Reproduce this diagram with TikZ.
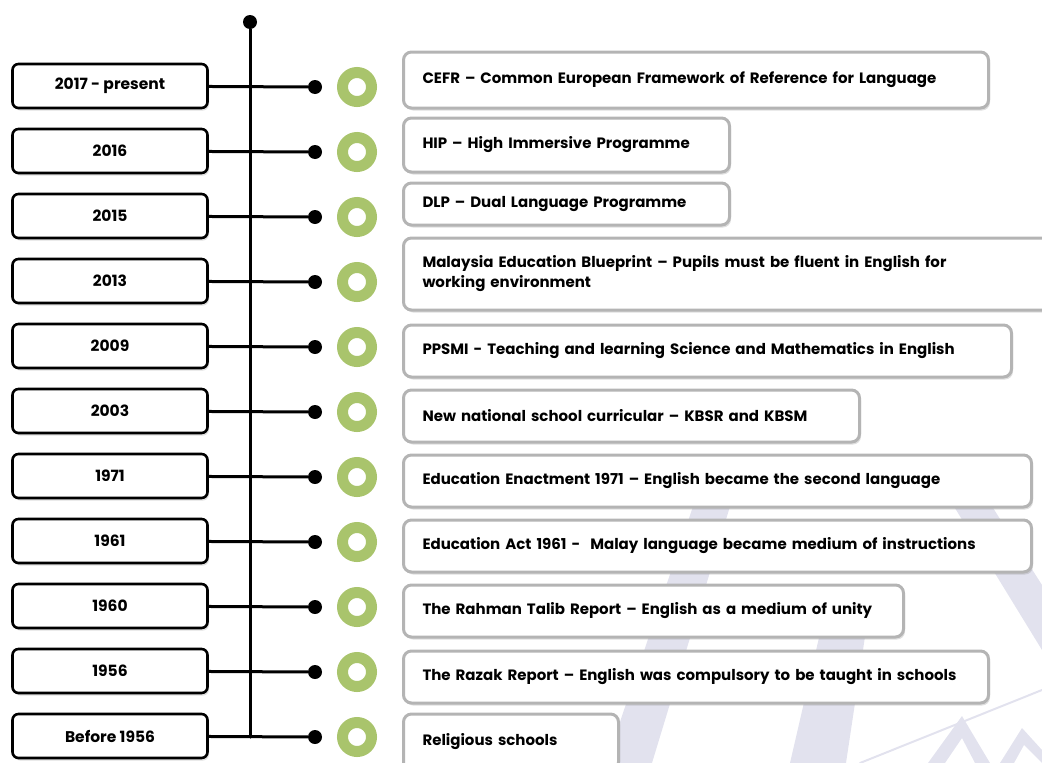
\documentclass[tikz,border=0pt]{standalone}
\usepackage{fontspec}
\setmainfont{Poppins}
\usetikzlibrary{shadows}
\definecolor{RingGreen}{HTML}{A9C46C}
\definecolor{EventGray}{HTML}{B4B4B4}
\definecolor{MarkLilac}{HTML}{E2E2EE}
\tikzset{YearBox/.style={draw=black,line width=2.6pt,rounded corners=6pt,fill=white,
           minimum width=195pt,minimum height=44pt,inner sep=0pt,
           font=\bfseries\fontsize{15.5}{18}\selectfont,
           drop shadow={opacity=.25,shadow xshift=1.5pt,shadow yshift=-2.5pt}},
         EventBox/.style={draw=EventGray,line width=3pt,rounded corners=8pt,fill=white,
           anchor=west,inner xsep=19pt,inner ysep=0pt,align=left,
           font=\bfseries\fontsize{15}{20}\selectfont,
           drop shadow={opacity=.25,shadow xshift=1.5pt,shadow yshift=-2.5pt}},
         TipDot/.style={circle,fill=black,minimum size=14pt,inner sep=0pt},
         Ring/.style={circle,draw=RingGreen,line width=11pt,minimum size=29pt,inner sep=0pt},
         Spine/.style={line width=3pt},
         Mark/.style={fill=MarkLilac,draw=none}}

\begin{document}
\begin{tikzpicture}[x=1pt,y=-1pt,line cap=round]
  \useasboundingbox (0,0) rectangle (1042,763);
  \clip (0,0) rectangle (1042,763);
  % faint watermark behind the event boxes
  \fill[Mark] (606,763) -- (652,763) -- (738,480) -- (702,480) -- cycle;
  \fill[Mark] (790,763) -- (846,763) -- (872,590) -- (830,590) -- cycle;
  \fill[Mark] (950,500) -- (988,500) -- (1042,585) -- (1042,650) -- cycle;
  \fill[Mark] (928,763) -- (962,716) -- (990,763) -- (975,763) -- (962,738) -- (945,763) -- cycle;
  \fill[Mark] (1000,763) -- (1022,728) -- (1042,750) -- (1042,763) -- (1024,745) -- (1014,763) -- cycle;
  \draw[MarkLilac,line width=2pt] (1042,690) -- (860,763);
  % spine of the time line
  \node[TipDot] (top) at (250,22) {};
  \coordinate (bot) at (250,737);
  \draw[Spine] (top) -- (bot);
  % years on the left, each tied to a dot and a green ring
  \foreach \yr [count=\i from 0] in {2017 - present,2016,2015,2013,2009,2003,
      1971,1961,1960,1956,Before 1956} {
    \node[YearBox] (yr\i) at (110,86+65*\i) {\yr};
    \node[TipDot] (tip\i) at (315,87+65*\i) {};
    \draw[Spine] (yr\i) -- (tip\i);
    \node[Ring] (ring\i) at (357,87+65*\i) {};
  }
  % events on the right: width / centre / height / text
  \foreach \w/\cy/\h/\txt [count=\i from 0] in {
      585/80/56/{CEFR – Common European Framework of Reference for Language},
      326/145/54/{HIP – High Immersive Programme},
      326/204/42/{DLP – Dual Language Programme},
      660/274/72/{Malaysia Education Blueprint – Pupils must be fluent in English for\\working environment},
      608/351/52/{PPSMI - Teaching and learning Science and Mathematics in English},
      456/416/52/{New national school curricular – KBSR and KBSM},
      628/481/52/{Education Enactment 1971 – English became the second language},
      628/546/52/{Education Act 1961 -\ \ Malay language became medium of instructions},
      500/611/52/{The Rahman Talib Report – English as a medium of unity},
      585/677/52/{The Razak Report – English was compulsory to be taught in schools},
      215/742/56/{Religious schools}} {
    \pgfmathsetmacro\tw{\w-38}
    \node[EventBox,minimum width=\w pt,minimum height=\h pt,text width=\tw pt]
      (ev\i) at (402,\cy) {\txt};
  }
\end{tikzpicture}
\end{document}
